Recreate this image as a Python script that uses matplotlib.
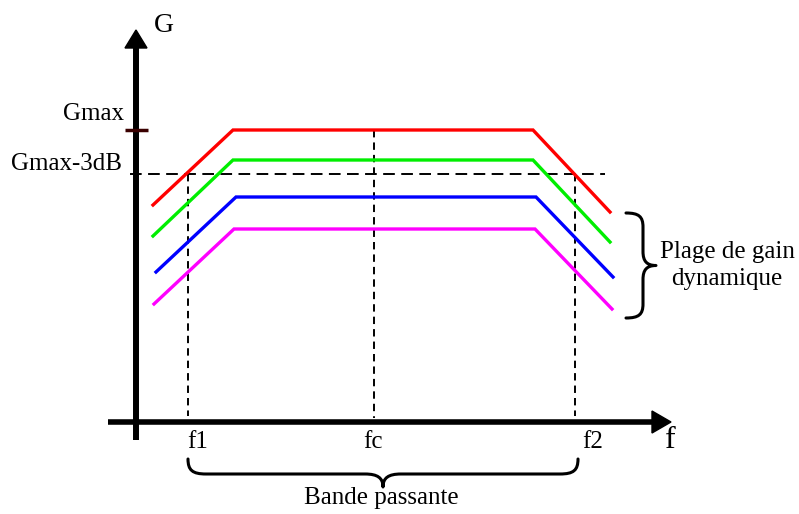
import numpy as np
import matplotlib.pyplot as plt
from matplotlib.path import Path
from matplotlib.patches import PathPatch

plt.rcParams['font.family'] = ['Liberation Serif', 'DejaVu Serif']

# gain curves: (f, G) breakpoints, drawing units (G grows downward on screen)
curve_colors = ['#ff0000', '#00ee00', '#0000ff', '#ff00ff']
curve_f = [[153, 233, 533, 610],
           [153, 233, 533, 610],
           [156, 236, 536, 613],
           [154, 234, 535, 612]]
curve_g = [[205, 130, 130, 212],
           [236, 160, 160, 242],
           [272, 197, 197, 277],
           [304, 229, 229, 309]]

# reference levels / frequencies
g_max = 130
g_3db = 174
f1, fc, f2 = 188, 374, 575
f_axis_y = 422
g_axis_x = 136

fig = plt.figure(figsize=(7.99, 5.14), dpi=100)
ax = fig.add_axes([0, 0, 1, 1])
ax.set_xlim(0, 799)
ax.set_ylim(514, 0)
ax.axis('off')

# axes with arrows
ax.plot([g_axis_x, g_axis_x], [440, 46], color='black', lw=4.3, solid_capstyle='butt')
ax.fill([g_axis_x - 11, g_axis_x + 11, g_axis_x], [48, 48, 30], color='black')
ax.plot([108, 654], [f_axis_y, f_axis_y], color='black', lw=4.0, solid_capstyle='butt')
ax.fill([652, 652, 671], [f_axis_y - 11, f_axis_y + 11, f_axis_y], color='black')

# Gmax tick
ax.plot([125, 148], [g_max, g_max], color='#3a0000', lw=2.5, solid_capstyle='butt')

# dashed guides
ax.plot([130, 605], [g_3db, g_3db], color='black', lw=1.4, linestyle=(0, (6.0, 3.3)))
ax.plot([f1, f1], [g_3db, 416], color='black', lw=1.4, linestyle=(0, (3.8, 2.6)))
ax.plot([fc, fc], [g_max, 418], color='black', lw=1.4, linestyle=(0, (3.8, 2.6)))
ax.plot([f2, f2], [g_3db, 416], color='black', lw=1.4, linestyle=(0, (3.8, 2.6)))

# gain curves
for fs, gs, c in zip(curve_f, curve_g, curve_colors):
    ax.plot(fs, gs, color=c, lw=2.4, solid_joinstyle='miter')


def brace(a0, a1, b0, h, depth, r, vertical=False):
    # curly brace from a0 to a1, ends at b0, straight part at b0+h, tip at b0+depth
    am = (a0 + a1) / 2
    bh = b0 + h
    bt = b0 + depth
    pts = [(a0, b0),
           (a0, b0 + h * 0.75), (a0 + r * 0.25, bh), (a0 + r, bh),
           (am - r, bh),
           (am - r * 0.3, bh), (am, bh + (bt - bh) * 0.3), (am, bt),
           (am, bh + (bt - bh) * 0.3), (am + r * 0.3, bh), (am + r, bh),
           (a1 - r, bh),
           (a1 - r * 0.25, bh), (a1, b0 + h * 0.75), (a1, b0)]
    codes = [Path.MOVETO,
             Path.CURVE4, Path.CURVE4, Path.CURVE4,
             Path.LINETO,
             Path.CURVE4, Path.CURVE4, Path.CURVE4,
             Path.CURVE4, Path.CURVE4, Path.CURVE4,
             Path.LINETO,
             Path.CURVE4, Path.CURVE4, Path.CURVE4]
    if vertical:
        pts = [(b, a) for a, b in pts]
    ax.add_patch(PathPatch(Path(pts, codes), fill=False, lw=2.2, color='black',
                           capstyle='round', joinstyle='round'))


brace(f1, 578, 459, 15, 28, 18)
brace(213, 318, 626, 17, 30, 14, vertical=True)

# labels
ax.text(164, 26, 'G', fontsize=20, ha='center', va='center')
ax.text(124, 114, 'Gmax', fontsize=18, ha='right', va='center')
ax.text(122, 164, 'Gmax-3dB', fontsize=18, ha='right', va='center')
ax.text(198, 442, 'f1', fontsize=18, ha='center', va='center')
ax.text(373, 442, 'fc', fontsize=18, ha='center', va='center')
ax.text(593, 442, 'f2', fontsize=18, ha='center', va='center')
ax.text(670, 441, 'f', fontsize=23, ha='center', va='center')
ax.text(381, 498, 'Bande passante', fontsize=18, ha='center', va='center')
ax.text(727, 252, 'Plage de gain', fontsize=18, ha='center', va='center')
ax.text(727, 279, 'dynamique', fontsize=18, ha='center', va='center')

fig.savefig('out.png', dpi=100)
